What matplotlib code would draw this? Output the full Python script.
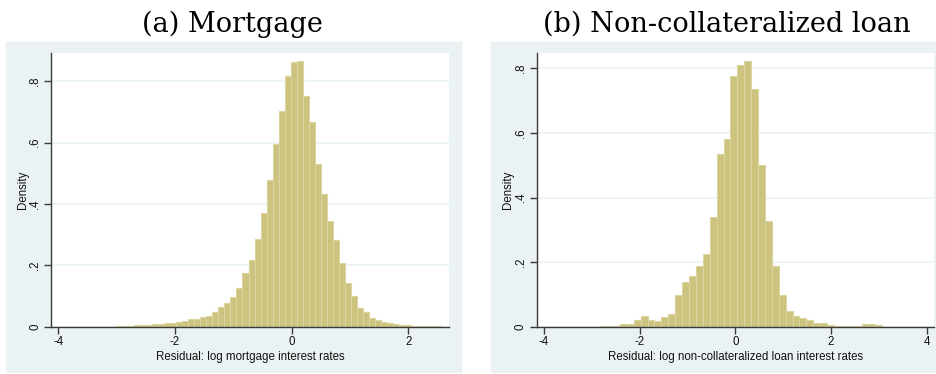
import numpy as np
import matplotlib
matplotlib.use("Agg")
from matplotlib import pyplot as plt
from matplotlib.patches import Rectangle

# (a) mortgage: 54 bins
mort_start = -3.012
mort_width = 0.1033
mort_density = [0.002, 0.002, 0.003, 0.005, 0.005, 0.007, 0.009, 0.009, 0.012, 0.012,
                0.015, 0.017, 0.025, 0.025, 0.032, 0.034, 0.048, 0.064, 0.077, 0.097,
                0.126, 0.174, 0.217, 0.285, 0.371, 0.477, 0.596, 0.703, 0.818, 0.863,
                0.867, 0.752, 0.667, 0.530, 0.433, 0.343, 0.283, 0.208, 0.142, 0.100,
                0.062, 0.048, 0.028, 0.022, 0.016, 0.012, 0.009, 0.005, 0.005, 0.003,
                0.002, 0.002, 0.002, 0.001]

# (b) non-collateralized loan: 41 bins
loan_start = -2.843
loan_width = 0.1443
loan_density = [0.002, 0.003, 0.003, 0.008, 0.008, 0.020, 0.033, 0.021, 0.017, 0.031,
                0.039, 0.098, 0.138, 0.157, 0.188, 0.225, 0.340, 0.535, 0.581, 0.776,
                0.810, 0.823, 0.736, 0.501, 0.327, 0.188, 0.098, 0.049, 0.033, 0.027,
                0.021, 0.012, 0.012, 0.006, 0.003, 0.002, 0.002, 0.002, 0.007, 0.009,
                0.006]

yticks = [0, 0.2, 0.4, 0.6, 0.8]
ytick_labels = ["0", ".2", ".4", ".6", ".8"]

BG = "#EAF2F3"
BAR = "#CCC37E"
BAR_EDGE = "#DBD5A2"
AXIS = "#3A3A3A"

plt.rcParams['font.family'] = ['Liberation Sans', 'DejaVu Sans']


def draw_hist(ax, start, width, density, xlim, ylim, xticks, xlabel):
    edges = start + width * np.arange(len(density))
    ax.bar(edges, density, width=width, align='edge', color=BAR,
           edgecolor=BAR_EDGE, linewidth=0.8, zorder=2)

    ax.set_xlim(*xlim)
    ax.set_ylim(*ylim)
    ax.set_facecolor("white")

    ax.set_yticks(yticks)
    ax.set_yticklabels(ytick_labels, rotation=90, va='center')
    ax.set_xticks(xticks)
    ax.set_xticklabels([str(t) if t >= 0 else "-" + str(-t) for t in xticks])
    ax.grid(axis='y', color=BG, linewidth=1.2, zorder=0)
    ax.set_axisbelow(True)

    for s in ['top', 'right']:
        ax.spines[s].set_visible(False)
    for s in ['left', 'bottom']:
        ax.spines[s].set_color(AXIS)
        ax.spines[s].set_linewidth(1.0)
        ax.spines[s].set_zorder(3)

    ax.tick_params(axis='both', direction='out', length=5, width=1.0,
                   color=AXIS, labelsize=8.3, pad=2, labelcolor="#111111")
    ax.set_xlabel(xlabel, fontsize=8.3, labelpad=1.5, color="#111111")
    ax.set_ylabel("Density", fontsize=8.3, color="#111111")
    ax.yaxis.set_label_coords(-0.056, 0.5)


fig = plt.figure(figsize=(9.37, 3.74), dpi=100)

# light panel backgrounds, kept behind the axes
fig.patches.append(Rectangle((6 / 937, 1.7 / 374), 455 / 937, 330.6 / 374,
                             transform=fig.transFigure, color=BG, zorder=-10))
fig.patches.append(Rectangle((491 / 937, 1.7 / 374), 446 / 937, 330.6 / 374,
                             transform=fig.transFigure, color=BG, zorder=-10))

ax1 = fig.add_axes([51 / 937, 47.3 / 374, 398 / 937, 273.7 / 374])
draw_hist(ax1, mort_start, mort_width, mort_density, (-4.125, 2.697), (0, 0.892),
          [-4, -2, 0, 2], "Residual: log mortgage interest rates")

ax2 = fig.add_axes([536.7 / 937, 47.3 / 374, 397.6 / 937, 274 / 374])
draw_hist(ax2, loan_start, loan_width, loan_density, (-4.15, 4.16), (0, 0.8486),
          [-4, -2, 0, 2, 4], "Residual: log non-collateralized loan interest rates")

fig.text(232 / 937, (374 - 31.7) / 374, "(a) Mortgage", ha='center', va='baseline',
         family='DejaVu Serif', fontsize=19.5)
fig.text(727 / 937, (374 - 31.7) / 374, "(b) Non-collateralized loan", ha='center',
         va='baseline', family='DejaVu Serif', fontsize=19.5)

fig.savefig("out.png", dpi=100)
